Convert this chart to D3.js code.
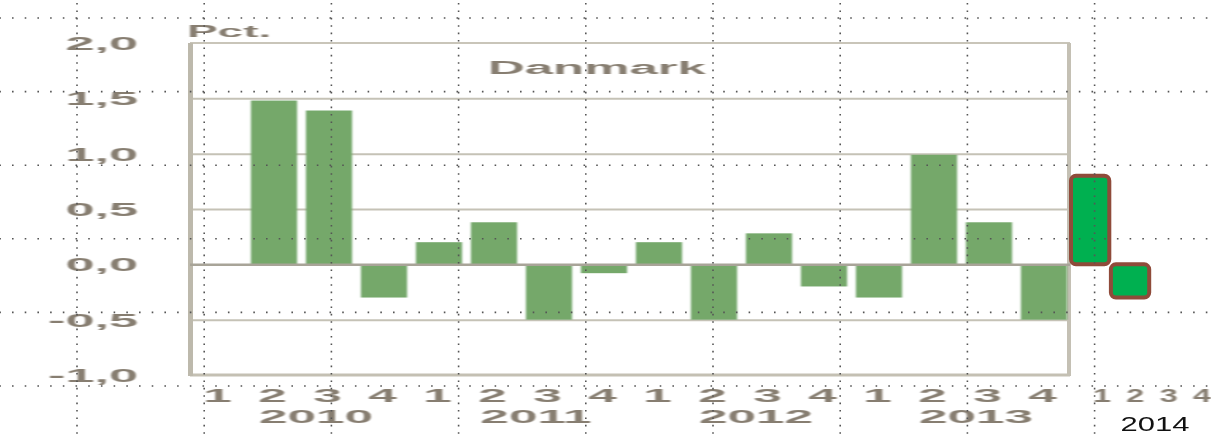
<!DOCTYPE html>
<html>
<head>
<meta charset="utf-8">
<script src="https://cdn.jsdelivr.net/npm/d3@7"></script>
<style>
body{margin:0;background:#fff;}
svg{display:block;font-family:"Liberation Sans",Arial,sans-serif;}
</style>
</head>
<body>
<svg id="chart"></svg>
<script>
var years = ["2010","2011","2012","2013"];
var quarters = ["1","2","3","4"];
var danmark = [0, 1.48, 1.39, -0.3, 0.2, 0.38, -0.5, -0.08, 0.2, -0.5, 0.28, -0.2, -0.3, 0.99, 0.38, -0.5];
var lastYear = "2014";
var danmark2014 = [0.8, -0.3];
var yTicks = [-1, -0.5, 0, 0.5, 1, 1.5, 2];
var gridTicks = [-0.5, 0.5, 1, 1.5];
var title = "Danmark";
var unit = "Pct.";

var screen = {width:1211, height:437}
var plot = {left:190, right:1070, top:43, bottom:375}
var textColor = "#877e71"

// stretched text, the original picture is widened a lot
var stretchText = function(target, str, x, y, anchor, sx, size, weight, color)
{
    return target.append("text")
        .text(str)
        .attr("text-anchor", anchor)
        .attr("transform", "translate(" + x + "," + y + ") scale(" + sx + ",1)")
        .attr("font-size", size)
        .attr("font-weight", weight)
        .attr("fill", color)
}

var svg = d3.select("#chart")
    .attr("width", screen.width)
    .attr("height", screen.height)

// soft edges like the scaled picture
var defs = svg.append("defs")
defs.append("filter")
    .attr("id", "soft")
    .attr("x", "-5%").attr("y", "-5%").attr("width", "110%").attr("height", "110%")
    .append("feGaussianBlur")
    .attr("stdDeviation", "0.9 0.3")

var keys = []
years.forEach(function(y) {
    quarters.forEach(function(q) { keys.push(y + "-" + q) })
})
var data = keys.map(function(k, i) { return {key:k, value:danmark[i]} })
var data2014 = danmark2014.map(function(v, i) { return {key:quarters[i], value:v} })

var xScale = d3.scaleBand()
    .domain(keys)
    .range([plot.left, plot.right])
    .paddingInner(0.16)
    .paddingOuter(0.08)

var yScale = d3.scaleLinear()
    .domain([-1, 2])
    .range([plot.bottom, plot.top])

var x2014 = d3.scaleBand()
    .domain(quarters)
    .range([1071, 1071 + 4 * 39.5])
    .paddingInner(0.04)

var xLabel2014 = d3.scalePoint()
    .domain(quarters)
    .range([1102, 1202])

// gridlines
var grid = svg.append("g")
    .attr("transform", "translate(" + plot.left + ",0)")
    .call(d3.axisLeft(yScale).tickValues(gridTicks).tickSize(-(plot.right - plot.left)).tickFormat(""))
grid.select(".domain").remove()
grid.selectAll("line").attr("stroke", "#c5c2b6").attr("stroke-width", 2)

// frame
svg.append("line")
    .attr("x1", plot.left).attr("x2", plot.right)
    .attr("y1", plot.top).attr("y2", plot.top)
    .attr("stroke", "#c9c5b9").attr("stroke-width", 2)
svg.append("line")
    .attr("x1", plot.left).attr("x2", plot.right)
    .attr("y1", plot.bottom).attr("y2", plot.bottom)
    .attr("stroke", "#c4c0b3").attr("stroke-width", 3)
svg.append("rect")
    .attr("x", plot.left - 2).attr("y", plot.top)
    .attr("width", 5).attr("height", plot.bottom - plot.top + 1)
    .attr("fill", "#bdb9ac")
svg.append("rect")
    .attr("x", plot.right - 3).attr("y", plot.top)
    .attr("width", 4).attr("height", plot.bottom - plot.top + 1)
    .attr("fill", "#c4c0b4")

// bars
svg.append("g")
    .attr("filter", "url(#soft)")
    .selectAll("rect")
    .data(data)
    .enter()
    .append("rect")
    .attr("x", function(d) { return xScale(d.key) + 1.5 })
    .attr("width", xScale.bandwidth())
    .attr("y", function(d) { return yScale(Math.max(0, d.value)) })
    .attr("height", function(d) { return Math.abs(yScale(d.value) - yScale(0)) })
    .attr("fill", "#74a86b")

// zero line
var zero = svg.append("g")
    .attr("transform", "translate(" + plot.left + ",0)")
    .call(d3.axisLeft(yScale).tickValues([0]).tickSize(-(plot.right - plot.left)).tickFormat(""))
zero.select(".domain").remove()
zero.selectAll("line").attr("stroke", "#a8a498").attr("stroke-width", 2.5)

// 2014 bars
svg.append("g")
    .selectAll("rect")
    .data(data2014)
    .enter()
    .append("rect")
    .attr("x", function(d) { return x2014(d.key) })
    .attr("width", x2014.bandwidth())
    .attr("y", function(d) { return yScale(Math.max(0, d.value)) })
    .attr("height", function(d) { return Math.abs(yScale(d.value) - yScale(0)) })
    .attr("rx", 5)
    .attr("fill", "#00b050")
    .attr("stroke", "#8f4b3a")
    .attr("stroke-width", 4)

// labels
var labels = svg.append("g")
    .attr("filter", "url(#soft)")

yTicks.forEach(function(v) {
    var str = d3.format(".1f")(v).replace(".", ",").replace("−", "-")
    stretchText(labels, str, 138, yScale(v) + 7, "end", 2.75, 19, "bold", textColor)
})

stretchText(labels, unit, 187, 37, "start", 2.7, 17, "bold", textColor)
stretchText(labels, title, 488, 74, "start", 2.83, 18, "bold", textColor)

data.forEach(function(d) {
    var q = d.key.split("-")[1]
    stretchText(labels, q, xScale(d.key) + xScale.bandwidth() / 2, 402, "middle", 2.7, 19, "bold", textColor)
})

years.forEach(function(y) {
    var mid = (xScale(y + "-2") + xScale(y + "-3") + xScale.bandwidth()) / 2
    stretchText(labels, y, mid + 16, 423, "middle", 2.7, 19, "bold", textColor)
})

quarters.forEach(function(q) {
    stretchText(labels, q, xLabel2014(q), 402, "middle", 1.7, 19, "bold", textColor)
})
stretchText(svg, lastYear, 1155, 431, "middle", 1.55, 20, "normal", "#111")

// dotted overlay grid on top of everything
var dots = svg.append("g")
dots.selectAll(".hdot")
    .data(d3.range(18, screen.height, 73.6))
    .enter()
    .append("line")
    .attr("x1", 0).attr("x2", screen.width)
    .attr("y1", function(d) { return d }).attr("y2", function(d) { return d })
    .attr("stroke", "#555")
    .attr("stroke-width", 1.6)
    .attr("stroke-dasharray", "1.6,11.1")
    .attr("stroke-dashoffset", -12)
dots.selectAll(".vdot")
    .data(d3.range(77, screen.width, 127.2))
    .enter()
    .append("line")
    .attr("y1", 0).attr("y2", screen.height)
    .attr("x1", function(d) { return d }).attr("x2", function(d) { return d })
    .attr("stroke", "#555")
    .attr("stroke-width", 1.6)
    .attr("stroke-dasharray", "1.6,5.8")
    .attr("stroke-dashoffset", -3)
</script>
</body>
</html>
